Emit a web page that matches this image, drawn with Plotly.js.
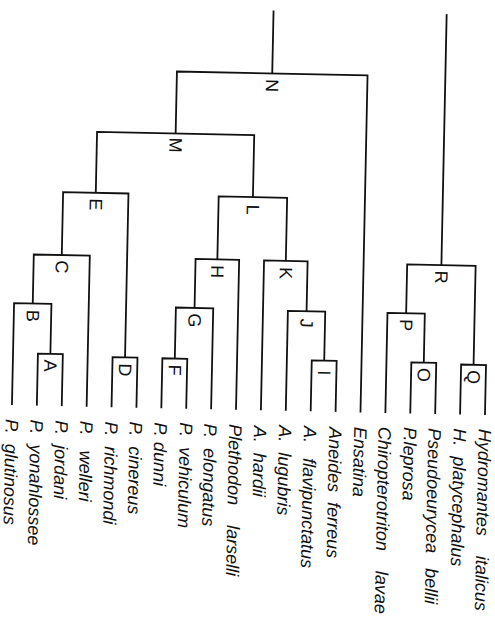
<!DOCTYPE html>
<html>
<head>
<meta charset="utf-8">
<script src="https://cdn.plot.ly/plotly-3.0.1.min.js"></script>
<style>
  html, body { margin: 0; padding: 0; background: #ffffff; overflow: hidden; }
  #plot { width: 495px; height: 621px; transform: rotate(1.2deg); transform-origin: 247px 310px; }
</style>
</head>
<body>
<div id="plot"></div>
<script>
// ---- data ----
const NB = "\u00A0";
const leafLabels = [
  "P." + NB + NB + "glutinosus",
  "P." + NB + NB + "yonahlossee",
  "P." + NB + NB + "jordani",
  "P." + NB + NB + NB + "welleri",
  "P." + NB + NB + "richmondi",
  "P." + NB + NB + "cinereus",
  "P." + NB + "dunni",
  "P." + NB + NB + "vehiculum",
  "P." + NB + NB + "elongatus",
  "Plethodon" + NB + NB + NB + NB + "larselli",
  "A." + NB + NB + "hardii",
  "A." + NB + NB + "lugubris",
  "A." + NB + NB + NB + "flavipunctatus",
  "Aneides" + NB + NB + "ferreus",
  "Ensatina",
  "Chiropterotriton" + NB + NB + NB + NB + "lavae",
  "P.leprosa",
  "Pseudoeurycea" + NB + NB + NB + "bellii",
  "H." + NB + NB + "platycephalus",
  "Hydromantes" + NB + NB + NB + NB + "italicus"
];
const nodeNames   = ["A", "B", "C", "D", "E", "F", "G", "H", "I", "J", "K", "L", "M", "N", "O", "P", "Q", "R"];
const nodeChild1  = [1, 0, "B", 4, "C", 6, "F", "G", 12, 11, 10, "H", "E", "M", 16, 15, 18, "P"];
const nodeChild2  = [2, "A", 3, 5, "D", 7, 8, 9, 13, "I", "J", "K", "L", 14, 17, "O", 19, "Q"];
const nodeHeights = [52, 102, 151, 50, 214, 50, 101, 150, 51, 100, 150, 213, 275, 337, 51, 100, 50, 149];
const rootNodes   = ["N", "R"];
const rootTop     = 400;

// ---- build tree geometry from the data ----
const pos = {}, hgt = {};
leafLabels.forEach((_, i) => { pos[i] = i; hgt[i] = 0; });
let pending = nodeNames.slice();
while (pending.length) {
  pending = pending.filter(n => {
    const i = nodeNames.indexOf(n);
    const a = nodeChild1[i], b = nodeChild2[i];
    if (pos[a] === undefined || pos[b] === undefined) return true;
    pos[n] = (pos[a] + pos[b]) / 2;
    hgt[n] = nodeHeights[i];
    return false;
  });
}

const lx = [], ly = [];
nodeNames.forEach((n, i) => {
  const a = nodeChild1[i], b = nodeChild2[i], h = nodeHeights[i];
  lx.push(pos[a], pos[a], pos[b], pos[b], null);
  ly.push(hgt[a], h, h, hgt[b], null);
});
rootNodes.forEach(n => {
  lx.push(pos[n], pos[n], null);
  ly.push(hgt[n], rootTop, null);
});

const lineTrace = {
  type: "scatter", mode: "lines", x: lx, y: ly,
  line: { color: "#111111", width: 1.8 },
  hoverinfo: "skip", showlegend: false
};

const annotations = [];
nodeNames.forEach((n, i) => {
  annotations.push({
    x: pos[n], y: nodeHeights[i], xref: "x", yref: "y",
    text: n, showarrow: false, textangle: 90, yshift: -12,
    font: { family: "Liberation Sans, Arial, sans-serif", size: 18, color: "#111111" }
  });
});
leafLabels.forEach((t, i) => {
  annotations.push({
    x: i, y: 0, xref: "x", yref: "y",
    text: "<i>" + t + "</i>", showarrow: false, textangle: 90,
    xanchor: "center", yanchor: "top", yshift: -12,
    font: { family: "Liberation Sans, Arial, sans-serif", size: 18, color: "#111111" }
  });
});

const layout = {
  width: 495, height: 621,
  margin: { l: 0, r: 0, t: 0, b: 0 },
  paper_bgcolor: "#ffffff", plot_bgcolor: "#ffffff",
  xaxis: { range: [-0.562, 19.317], visible: false, fixedrange: true },
  yaxis: { range: [-211, 410], visible: false, fixedrange: true },
  annotations: annotations,
  showlegend: false
};

Plotly.newPlot("plot", [lineTrace], layout, { staticPlot: true, displayModeBar: false });
</script>
</body>
</html>
